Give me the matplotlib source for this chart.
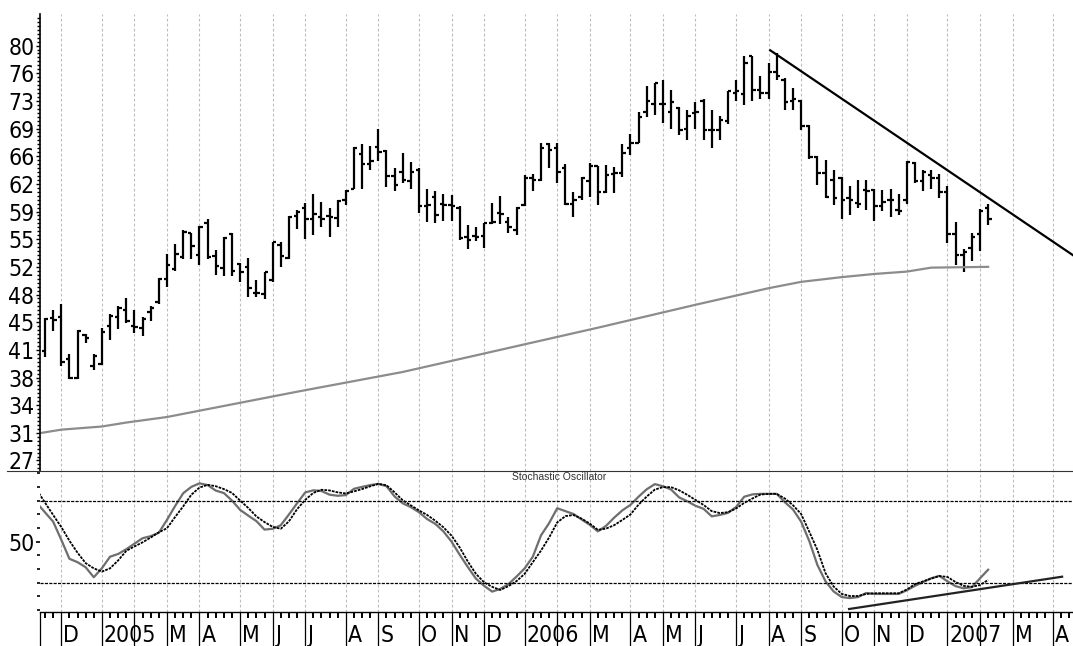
import numpy as np
import pandas as pd
import matplotlib
matplotlib.use("Agg")
import matplotlib.pyplot as plt
from matplotlib import font_manager as fm
from matplotlib.lines import Line2D
from matplotlib.ticker import FixedLocator, MultipleLocator

plt.rcParams['font.family'] = ['Liberation Sans', 'DejaVu Sans']

# weekly bars, Friday dates, first bar = 19 Nov 2004
opens = [41.4, 45.5, 45.7, 40.4, 38.0, 43.4, 39.4, 39.7, 44.5, 45.6,
         46.5, 44.5, 44.3, 46.3, 47.5, 50.4, 51.7, 53.2, 56.3, 53.5,
         57.5, 53.4, 51.8, 56.2, 52.4, 52.0, 48.7, 48.6, 50.3, 54.8,
         53.1, 58.4, 59.4, 58.1, 58.3, 58.4, 58.2, 60.5, 61.9, 66.3,
         65.0, 67.2, 66.6, 63.5, 64.0, 62.8, 64.3, 59.7, 60.9, 60.0,
         59.8, 59.5, 55.8, 55.9, 55.9, 57.5, 58.8, 57.7, 56.6, 59.8,
         63.2, 63.0, 67.6, 67.0, 64.5, 60.0, 60.9, 62.8, 64.7, 61.5,
         63.7, 63.9, 67.1, 67.7, 71.6, 72.6, 72.6, 71.6, 72.1, 69.5,
         71.5, 73.0, 69.3, 69.3, 70.5, 74.0, 73.9, 78.7, 74.4, 74.0,
         76.6, 75.6, 73.0, 73.0, 69.8, 65.9, 63.9, 63.0, 63.2, 60.7,
         60.1, 61.7, 61.7, 59.7, 60.5, 59.2, 60.5, 65.2, 62.8, 63.6,
         63.2, 61.5, 56.2, 53.5, 54.4, 56.2, 59.4]
highs = [45.5, 46.5, 47.3, 41.0, 44.0, 43.5, 41.0, 44.2, 46.0, 47.1,
         48.0, 46.5, 45.6, 47.1, 50.6, 53.6, 54.9, 56.6, 56.3, 57.2,
         58.0, 54.1, 55.8, 56.3, 52.5, 53.1, 50.3, 51.4, 55.2, 55.2,
         58.4, 59.2, 60.1, 61.2, 60.2, 59.4, 60.5, 61.7, 67.2, 67.6,
         67.3, 69.5, 66.8, 64.5, 66.4, 65.3, 64.5, 61.9, 61.6, 61.2,
         61.1, 59.7, 57.3, 57.1, 57.6, 60.1, 61.0, 58.3, 59.6, 63.6,
         63.8, 67.7, 67.7, 67.7, 65.0, 61.5, 63.4, 65.2, 64.8, 64.9,
         64.6, 67.5, 68.8, 71.6, 74.9, 75.3, 75.6, 74.4, 72.2, 71.8,
         72.8, 73.3, 71.8, 71.1, 74.3, 75.6, 78.7, 78.7, 76.1, 77.8,
         79.1, 75.9, 74.6, 73.1, 69.9, 66.0, 65.5, 64.3, 63.4, 62.2,
         63.0, 63.0, 61.9, 61.7, 61.9, 61.2, 65.4, 65.3, 64.3, 64.2,
         63.8, 62.2, 57.7, 54.2, 56.3, 59.3, 60.0]
lows = [40.6, 43.9, 39.4, 37.8, 37.8, 42.4, 38.9, 39.6, 42.8, 44.1,
        44.9, 43.6, 43.2, 45.2, 47.3, 49.5, 51.5, 53.0, 53.0, 52.2,
        53.0, 51.0, 50.8, 50.8, 50.1, 48.2, 48.2, 47.9, 50.1, 52.0,
        53.0, 56.8, 55.5, 56.0, 57.1, 55.8, 57.1, 59.8, 61.8, 61.8,
        64.3, 65.4, 62.1, 61.6, 62.6, 61.8, 58.8, 57.7, 57.6, 57.8,
        57.8, 55.4, 54.2, 55.3, 54.4, 57.4, 57.4, 56.3, 56.0, 59.7,
        61.6, 62.9, 64.5, 62.6, 59.8, 58.3, 60.4, 60.9, 59.8, 61.3,
        61.4, 63.4, 66.2, 67.7, 70.9, 71.2, 70.2, 69.4, 68.7, 68.1,
        69.4, 68.1, 67.0, 68.0, 70.1, 73.0, 72.5, 73.0, 73.3, 73.3,
        75.7, 71.8, 71.9, 69.3, 65.7, 62.4, 60.7, 59.8, 58.0, 58.6,
        59.4, 59.2, 57.8, 59.1, 58.3, 58.6, 60.0, 62.6, 61.6, 61.9,
        60.7, 55.0, 52.2, 51.3, 52.8, 54.0, 57.3]
closes = [45.4, 45.3, 39.9, 37.9, 43.9, 43.0, 40.7, 43.8, 45.8, 46.8,
          45.2, 44.4, 45.4, 46.8, 50.4, 52.2, 53.6, 56.4, 54.6, 57.1,
          53.2, 52.1, 55.7, 51.5, 51.3, 49.3, 48.7, 51.3, 55.1, 53.4,
          58.3, 59.0, 58.1, 58.7, 58.1, 58.3, 60.3, 61.6, 67.1, 65.0,
          65.4, 66.5, 63.5, 62.4, 63.0, 64.0, 59.7, 59.8, 58.6, 59.8,
          59.7, 55.6, 55.4, 55.8, 57.5, 57.7, 58.7, 57.1, 59.5, 63.2,
          63.0, 67.0, 66.8, 64.0, 60.0, 60.5, 63.2, 64.7, 61.5, 63.6,
          63.9, 66.4, 67.7, 71.0, 73.0, 75.2, 72.6, 72.9, 69.3, 71.1,
          71.6, 69.3, 69.3, 70.6, 74.2, 74.2, 77.8, 74.4, 74.0, 76.6,
          76.1, 72.9, 73.3, 69.8, 65.9, 63.9, 60.8, 60.7, 60.5, 60.5,
          60.0, 61.6, 59.7, 60.2, 60.5, 59.1, 65.3, 62.8, 64.0, 63.2,
          61.5, 56.2, 53.5, 53.9, 55.8, 59.1, 58.1]

# long moving average (grey), read at some weeks
ma_week = [-1, 2, 7, 10, 15, 19, 31, 44, 56, 68, 80, 89, 93, 98, 102, 106, 109, 116]
ma_level = [30.9, 31.4, 31.8, 32.3, 33.0, 33.8, 36.2, 38.7, 41.5, 44.3,
            47.2, 49.3, 50.1, 50.7, 51.1, 51.4, 51.9, 52.0]

# stochastic oscillator, weeks -1 .. 116
stoch_k = [78.2, 71.4, 64.6, 51.4, 37.5, 35.0, 31.3, 24.0, 30.6, 39.0,
           41.0, 44.5, 48.5, 52.5, 54.0, 56.5, 65.9, 76.0, 85.4, 90.0,
           92.6, 91.3, 87.3, 85.5, 80.0, 73.2, 69.0, 65.0, 58.8, 59.4,
           62.0, 69.8, 78.0, 85.9, 87.5, 87.0, 84.3, 83.5, 84.0, 88.6,
           90.0, 91.3, 92.2, 90.5, 83.0, 78.0, 75.2, 71.5, 66.5, 63.0,
           57.5, 50.0, 40.5, 31.5, 23.0, 17.8, 13.5, 15.5, 19.0, 24.5,
           30.5, 39.0, 54.5, 63.5, 74.4, 72.3, 70.2, 66.2, 62.3, 57.5,
           61.5, 67.5, 72.8, 76.8, 82.8, 88.2, 92.0, 90.5, 88.1, 82.3,
           79.5, 76.2, 74.0, 68.5, 69.5, 71.0, 75.3, 82.8, 84.5, 84.9,
           84.9, 84.9, 78.8, 73.5, 64.6, 50.5, 33.0, 21.0, 13.6, 9.5,
           8.8, 9.5, 12.5, 11.8, 11.8, 11.8, 11.8, 14.5, 17.7, 20.5,
           23.3, 25.0, 21.0, 17.5, 15.9, 16.8, 23.2, 29.5]
stoch_d = [87.7, 78.5, 69.5, 60.7, 50.7, 41.9, 34.3, 30.5, 28.1, 30.5,
           36.3, 43.3, 46.5, 49.5, 53.0, 56.8, 59.8, 68.0, 75.8, 84.3,
           89.5, 91.5, 90.5, 88.4, 85.6, 80.0, 74.6, 68.4, 64.3, 60.8,
           59.4, 64.8, 73.7, 80.5, 85.6, 87.9, 87.4, 86.0, 85.2, 86.7,
           88.4, 90.4, 92.2, 91.2, 86.0, 80.2, 76.5, 72.8, 69.5, 65.3,
           60.5, 54.4, 45.8, 35.5, 26.5, 20.3, 17.0, 14.7, 17.5, 21.2,
           26.5, 35.0, 43.4, 53.0, 64.0, 68.6, 69.5, 66.8, 63.2, 58.6,
           59.5, 62.0, 65.8, 69.8, 77.0, 82.9, 88.0, 89.8, 89.8, 87.5,
           84.2, 80.5, 76.8, 72.3, 70.9, 71.5, 74.2, 78.3, 81.5, 84.4,
           84.9, 84.9, 81.5, 76.6, 70.2, 57.3, 44.0, 27.0, 17.2, 11.8,
           10.3, 10.3, 11.8, 12.3, 12.3, 12.3, 12.3, 15.0, 19.0, 21.0,
           23.0, 24.9, 24.2, 20.5, 17.7, 17.0, 18.3, 22.0]

# hand drawn trend lines
price_trend_x = [89.2, 126.4]
price_trend_y = [79.4, 53.5]
stoch_trend_x = [98.9, 125.1]
stoch_trend_y = [0.8, 24.4]

# axis labels in the original use a narrow face; take the narrowest one we have
fonts = fm.fontManager.ttflist
names = {f.name for f in fonts}
if 'Liberation Sans Narrow' in names:
    lab_font = fm.FontProperties(family='Liberation Sans Narrow', size=18)
elif any(f.name == 'DejaVu Sans' and 'condensed' in str(f.stretch) for f in fonts):
    lab_font = fm.FontProperties(family='DejaVu Sans', stretch='condensed', size=16.5)
else:
    lab_font = fm.FontProperties(family='Liberation Sans', size=16.5)

weeks = pd.date_range("2004-11-19", periods=127, freq="W-FRI")
month_idx = [i for i in range(1, len(weeks)) if weeks[i].month != weeks[i - 1].month]
letters = "JFMAMJJASOND"
month_lab = []
for i in month_idx:
    d = weeks[i]
    if d.month == 1:
        month_lab.append(str(d.year))
    elif d.month == 2:
        month_lab.append("")
    else:
        month_lab.append(letters[d.month - 1])

x = np.arange(len(closes))
xmin, xmax = -0.615, 126.44

fig = plt.figure(figsize=(10.73, 6.46), dpi=100)
ax1 = fig.add_axes([0.03728, 0.2709, 0.96272, 0.7074])
ax2 = fig.add_axes([0.03728, 0.0526, 0.96272, 0.2183])

grid_kw = dict(color='#bdbdbd', lw=0.8, ls=(0, (2.5, 2)), zorder=0)
for m in month_idx:
    ax1.axvline(m, **grid_kw)
    ax2.axvline(m, **grid_kw)

# price bars
ax1.vlines(x, lows, highs, color='k', lw=1.6)
ax1.hlines(opens, x - 0.42, x, color='k', lw=1.6)
ax1.hlines(closes, x, x + 0.42, color='k', lw=1.6)
ax1.plot(ma_week, ma_level, color='#8c8c8c', lw=1.6)
ax1.plot(price_trend_x, price_trend_y, color='k', lw=1.6)

ax1.set_xlim(xmin, xmax)
ax1.set_ylim(26.17, 83.99)
yt = np.arange(27.5, 80.1, 3.5)
ax1.yaxis.set_major_locator(FixedLocator(yt))
ax1.set_yticklabels([str(int(v)) for v in yt], fontproperties=lab_font)
ax1.yaxis.set_minor_locator(MultipleLocator(0.5))
ax1.tick_params(axis='y', which='major', direction='out', length=3, width=1, pad=1)
ax1.tick_params(axis='y', which='minor', direction='out', length=2, width=1)
ax1.tick_params(axis='x', which='both', bottom=False, labelbottom=False)
for s in ['top', 'right', 'bottom']:
    ax1.spines[s].set_visible(False)
ax1.spines['left'].set_linewidth(1.2)

# stochastic panel
ax2.plot(np.arange(-1, 117), stoch_k, color='#6e6e6e', lw=1.6)
ax2.plot(np.arange(-1, 117), stoch_d, color='k', lw=1.3, ls=(0, (1.5, 0.6)))
ax2.axhline(80, color='k', lw=0.9, ls=(0, (2.5, 1)))
ax2.axhline(20, color='k', lw=0.9, ls=(0, (2.5, 1)))
ax2.plot(stoch_trend_x, stoch_trend_y, color='#222222', lw=1.6)
ax2.set_xlim(xmin, xmax)
ax2.set_ylim(-1.4, 101.6)
ax2.yaxis.set_major_locator(FixedLocator([50]))
ax2.set_yticklabels(['50'], fontproperties=lab_font)
ax2.yaxis.set_minor_locator(FixedLocator([0, 10, 20, 30, 40, 60, 70, 80, 90, 100]))
ax2.tick_params(axis='y', which='major', direction='out', length=3, width=1.2, pad=1)
ax2.tick_params(axis='y', which='minor', direction='out', length=2, width=1.2)
for s in ['top', 'right', 'left']:
    ax2.spines[s].set_visible(False)
ax2.spines['bottom'].set_linewidth(1.0)

ax2.xaxis.set_major_locator(FixedLocator([xmin + 0.02] + month_idx))
ax2.xaxis.set_minor_locator(FixedLocator(list(x) + list(range(117, 127))))
ax2.tick_params(axis='x', which='major', direction='out', length=24.5, width=0.9, labelbottom=False)
ax2.tick_params(axis='x', which='minor', direction='out', length=4.5, width=1.4)

for m, lab in zip(month_idx, month_lab):
    if lab:
        ax2.text(m + 0.25, -0.216, lab, transform=ax2.get_xaxis_transform(),
                 ha='left', va='baseline', fontproperties=lab_font, clip_on=False)

ax2.text(0.503, 0.955, 'Stochastic Oscillator', transform=ax2.transAxes,
         ha='center', va='center', fontsize=7.5, color='#333333',
         family=['Liberation Sans', 'DejaVu Sans'])

# separator line between the panels
sep_y = 0.0526 + 0.2183
fig.add_artist(Line2D([7 / 1073, 1.0], [sep_y, sep_y], transform=fig.transFigure,
                      color='#333333', lw=0.8))

fig.savefig("out.png", dpi=100)
